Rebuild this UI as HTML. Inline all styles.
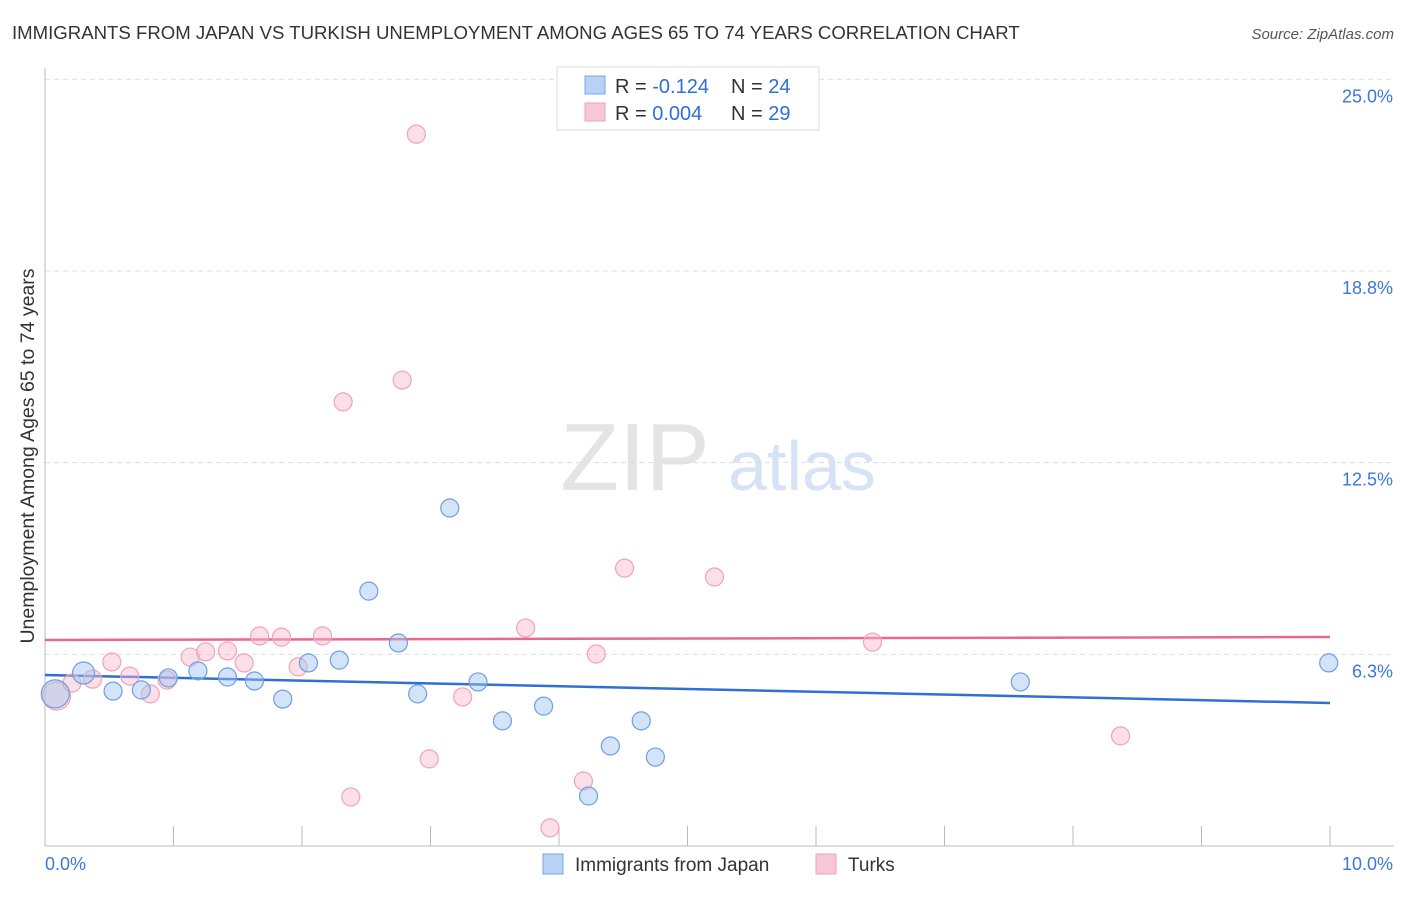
<!DOCTYPE html>
<html><head><meta charset="utf-8"><style>
body{margin:0;background:#fff;font-family:"Liberation Sans",sans-serif;}
svg text{font-family:"Liberation Sans",sans-serif;}
</style></head><body>
<svg id="chart" width="1406" height="892" xmlns="http://www.w3.org/2000/svg">
<text x="12" y="39" font-size="18.6" fill="#333">IMMIGRANTS FROM JAPAN VS TURKISH UNEMPLOYMENT AMONG AGES 65 TO 74 YEARS CORRELATION CHART</text>
<text x="1394" y="39" font-size="15" fill="#555" text-anchor="end" font-style="italic">Source: ZipAtlas.com</text>
<text transform="translate(34,456) rotate(-90)" font-size="19.5" fill="#333" text-anchor="middle">Unemployment Among Ages 65 to 74 years</text>
<g>
<text x="635" y="490" font-size="96" fill="#e4e4e4" text-anchor="middle" font-family="Liberation Serif,serif">ZIP</text>
<text x="802" y="490" font-size="70" fill="#d6e3f5" text-anchor="middle">atlas</text>
</g>
<g id="grid"></g><g id="axes"></g><g id="lines"></g><g id="points"></g>
<g>
<rect x="557" y="67" width="262" height="63" fill="#fff" stroke="#ddd"/>
<rect x="585" y="76" width="20" height="18" fill="#b8d2f5" stroke="#7aa7e3"/>
<text x="615" y="93" font-size="20" fill="#333">R = <tspan fill="#2f6fd6">-0.124</tspan></text>
<text x="731" y="93" font-size="20" fill="#333">N = <tspan fill="#2f6fd6">24</tspan></text>
<rect x="585" y="103" width="20" height="18" fill="#f9c8d6" stroke="#eea2ba"/>
<text x="615" y="120" font-size="20" fill="#333">R = <tspan fill="#2f6fd6">0.004</tspan></text>
<text x="731" y="120" font-size="20" fill="#333">N = <tspan fill="#2f6fd6">29</tspan></text>
</g>
<g>
<rect x="543" y="854" width="20" height="20" fill="#b8d2f5" stroke="#7aa7e3"/>
<text x="575" y="871" font-size="19" fill="#333">Immigrants from Japan</text>
<rect x="816" y="854" width="20" height="20" fill="#f9c8d6" stroke="#eea2ba"/>
<text x="848" y="871" font-size="19" fill="#333">Turks</text>
</g>
</svg>
<script>
const yTicks=[6.25,12.5,18.75,25];
const yTickLabels=["6.3%","12.5%","18.8%","25.0%"];
const xTickLabels=["0.0%","10.0%"];
const japanX=[0.08,0.30,0.53,0.75,0.96,1.19,1.42,1.63,1.85,2.05,2.29,2.52,2.75,2.90,3.15,3.37,3.56,3.88,4.23,4.40,4.64,4.75,7.59,9.99];
const japanY=[4.96,5.64,5.05,5.09,5.48,5.71,5.51,5.38,4.79,5.97,6.06,8.31,6.62,4.96,11.02,5.35,4.08,4.56,1.63,3.26,4.08,2.90,5.35,5.97];
const japanR=[14,11,9,9,9,9,9,9,9,9,9,9,9,9,9,9,9,9,9,9,9,9,9,9];
const turksX=[0.09,0.21,0.37,0.52,0.66,0.82,0.95,1.13,1.25,1.42,1.55,1.67,1.84,1.97,2.16,2.32,2.38,2.78,2.89,2.99,3.25,3.74,3.93,4.19,4.29,4.51,5.21,6.44,8.37];
const turksY=[4.89,5.31,5.44,6.00,5.54,4.96,5.41,6.16,6.33,6.36,5.97,6.85,6.81,5.84,6.85,14.48,1.60,15.19,23.21,2.84,4.86,7.11,0.59,2.12,6.26,9.06,8.77,6.65,3.59];
const turksR=[14,9,9,9,9,9,9,9,9,9,9,9,9,9,9,9,9,9,9,9,9,9,9,9,9,9,9,9,9];
const japanTrend=[5.575,4.663];
const turksTrend=[6.717,6.814];
const X0=45,X1=1330,Y0=846,PX=30.67;
const sx=v=>X0+(v/10)*(X1-X0);
const sy=v=>Y0-v*PX;
const NS="http://www.w3.org/2000/svg";
function mk(t,a,p){const e=document.createElementNS(NS,t);for(const k in a)e.setAttribute(k,a[k]);p.appendChild(e);return e;}
const grid=document.getElementById('grid'),axes=document.getElementById('axes'),lines=document.getElementById('lines'),pts=document.getElementById('points');
yTicks.forEach((v,i)=>{
 const l=mk('line',{x1:X0,x2:1394,y1:sy(v),y2:sy(v),stroke:'#ddd','stroke-dasharray':'5,4'},grid);
 
 
 const t=mk('text',{x:1393,y:sy(v)+23,'font-size':18,fill:'#3b78d8','text-anchor':'end'},grid);
 t.textContent=yTickLabels[i];
 
 
});
const ax=mk('line',{x1:X0,x2:X0,y1:68,y2:Y0,stroke:'#bbb'},axes);


const bx=mk('line',{x1:X0,x2:1394,y1:Y0,y2:Y0,stroke:'#bbb'},axes);


for(let i=0;i<=10;i++){
 const t=mk('line',{x1:sx(i),x2:sx(i),y1:826,y2:Y0,stroke:'#bbb'},axes);
 
 
}
[[0,'start',45],[10,'end',1393]].forEach((a,i)=>{
 const t=mk('text',{x:a[2],y:870,'font-size':18,fill:'#3b78d8','text-anchor':a[1]},axes);
 t.textContent=xTickLabels[i];
 
 
});
function series(X,Y,R,fill,stroke,name){
 X.forEach((x,i)=>{
  const c=mk('circle',{cx:sx(x),cy:sy(Y[i]),r:R[i],fill:fill,stroke:stroke,'stroke-width':1.2},pts);
  
  
 });
}
series(turksX,turksY,turksR,'rgba(248,185,205,0.45)','#efa3bb','turks-point');
series(japanX,japanY,japanR,'rgba(160,196,240,0.45)','#6d9fe2','japan-point');
const lt=mk('line',{x1:sx(0),x2:sx(10),y1:sy(turksTrend[0]),y2:sy(turksTrend[1]),stroke:'#e8688f','stroke-width':2.5},lines);


const lj=mk('line',{x1:sx(0),x2:sx(10),y1:sy(japanTrend[0]),y2:sy(japanTrend[1]),stroke:'#2f6fd6','stroke-width':2.5},lines);


</script>
</body></html>
